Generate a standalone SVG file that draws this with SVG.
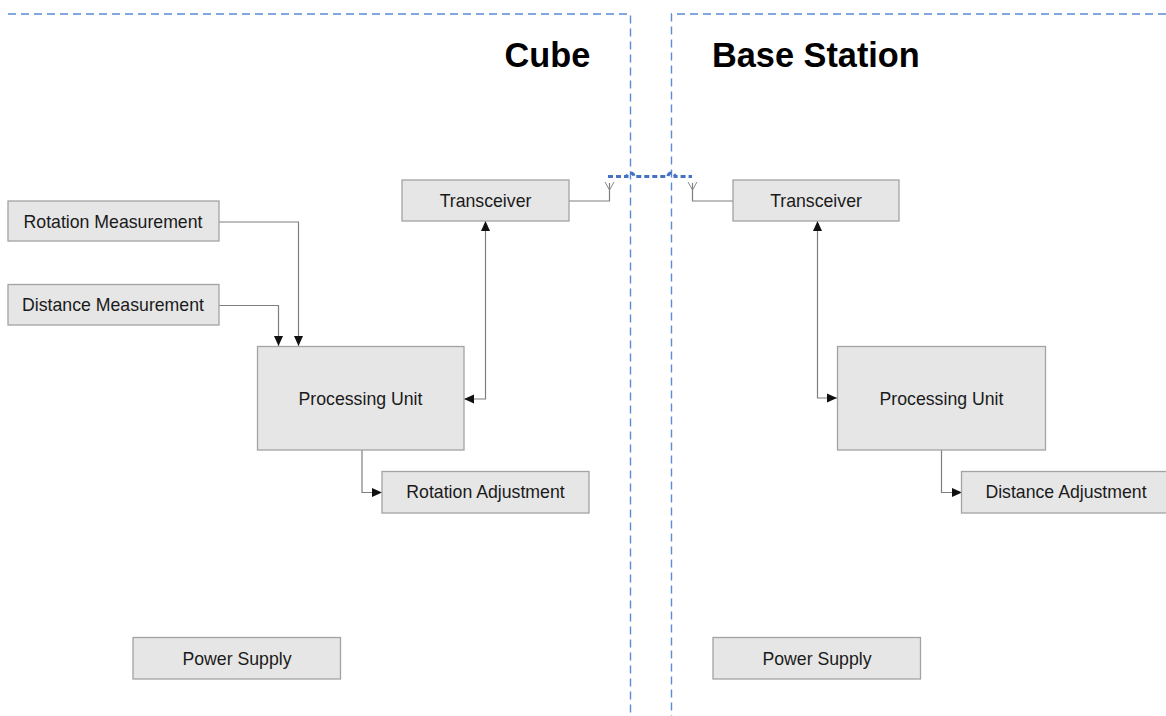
<svg xmlns="http://www.w3.org/2000/svg" width="1166" height="716" viewBox="0 0 1166 716">
  <style>
    .box { fill: #e6e6e6; stroke: #a3a3a3; stroke-width: 1.3; }
    .lbl { font-family: "Liberation Sans", Arial, sans-serif; font-size: 17.7px; fill: #1a1a1a; text-anchor: middle; }
    .title { font-family: "Liberation Sans", Arial, sans-serif; font-size: 34.3px; font-weight: bold; fill: #000; }
    .zone { fill: none; stroke: #5b8ad8; stroke-width: 1.4; stroke-dasharray: 8 5; }
    .wire { fill: none; stroke: #7f7f7f; stroke-width: 1.2; }
    .ant { fill: none; stroke: #8a8a8a; stroke-width: 1; }
    .link { fill: none; stroke: #4472c4; stroke-width: 3; stroke-dasharray: 5 3; }
  </style>
  <defs>
    <marker id="arrow" viewBox="0 0 10 10" refX="10" refY="5" markerWidth="11" markerHeight="10" markerUnits="userSpaceOnUse" orient="auto-start-reverse">
      <path d="M0,0.5 L10,5 L0,9.5 Z" fill="#111"/>
    </marker>
  </defs>

  <rect width="1166" height="716" fill="#ffffff"/>

  <!-- zone borders -->
  <g id="zones">
    <path class="zone" d="M8,14 H630.5 V716"/>
    <path class="zone" d="M1166,14 H671.5 V716"/>
  </g>

  <text class="title" x="504.5" y="67">Cube</text>
  <text class="title" x="712" y="67">Base Station</text>

  <!-- connectors -->
  <g id="connectors">
    <path class="wire" d="M219,222 H298.5 V346" marker-end="url(#arrow)"/>
    <path class="wire" d="M219,305.5 H278.5 V346" marker-end="url(#arrow)"/>
    <path class="wire" d="M464,399 H485.5 V221" marker-start="url(#arrow)" marker-end="url(#arrow)"/>
    <path class="wire" d="M362,450 V492.5 H382" marker-end="url(#arrow)"/>
    <path class="wire" d="M837,398 H817.5 V221" marker-start="url(#arrow)" marker-end="url(#arrow)"/>
    <path class="wire" d="M941.5,450 V492.5 H962" marker-end="url(#arrow)"/>
    <!-- antenna feeds -->
    <path class="wire" d="M569,201 H609.5 V183"/>
    <path class="ant" d="M605,182 L609.5,190 L614,182"/>
    <path class="wire" d="M733,201 H692.5 V183"/>
    <path class="ant" d="M688,182 L692.5,190 L697,182"/>
    <!-- radio link -->
    <path class="link" d="M608,176.5 H627 A3.5,3.5 0 0 1 634,176.5 H668 A3.5,3.5 0 0 1 675,176.5 H692"/>
  </g>

  <!-- Cube side -->
  <g id="rotation-measurement">
    <rect class="box" x="8" y="201" width="211" height="40"/>
    <text class="lbl" x="113" y="227.5">Rotation Measurement</text>
  </g>
  <g id="distance-measurement">
    <rect class="box" x="8" y="284.5" width="211" height="40.5"/>
    <text class="lbl" x="113" y="311">Distance Measurement</text>
  </g>
  <g id="cube-transceiver">
    <rect class="box" x="402" y="180" width="167" height="41"/>
    <text class="lbl" x="485.5" y="206.5">Transceiver</text>
  </g>
  <g id="cube-processing-unit">
    <rect class="box" x="257.5" y="346.5" width="206.5" height="103.5"/>
    <text class="lbl" x="360.5" y="404.5">Processing Unit</text>
  </g>
  <g id="rotation-adjustment">
    <rect class="box" x="382" y="471.5" width="207" height="41.5"/>
    <text class="lbl" x="485.5" y="498">Rotation Adjustment</text>
  </g>
  <g id="cube-power-supply">
    <rect class="box" x="133" y="637.5" width="207.5" height="41.5"/>
    <text class="lbl" x="237" y="664.5">Power Supply</text>
  </g>

  <!-- Base station side -->
  <g id="base-transceiver">
    <rect class="box" x="733" y="180" width="166" height="41"/>
    <text class="lbl" x="816" y="206.5">Transceiver</text>
  </g>
  <g id="base-processing-unit">
    <rect class="box" x="837.5" y="346.5" width="208" height="103.5"/>
    <text class="lbl" x="941.5" y="404.5">Processing Unit</text>
  </g>
  <g id="distance-adjustment">
    <rect class="box" x="961.5" y="471.5" width="210" height="41.5"/>
    <text class="lbl" x="1066" y="498">Distance Adjustment</text>
  </g>
  <g id="base-power-supply">
    <rect class="box" x="713" y="637.5" width="207.5" height="41.5"/>
    <text class="lbl" x="817" y="664.5">Power Supply</text>
  </g>
</svg>
